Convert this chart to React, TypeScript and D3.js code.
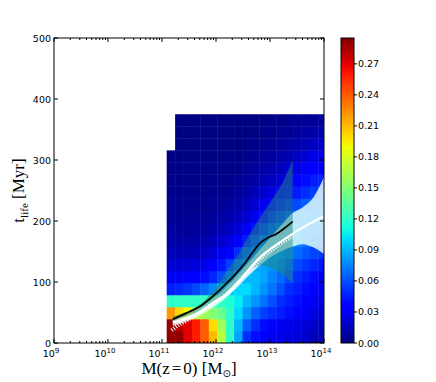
import React from 'react';
import * as d3 from 'd3';

const W = 436, H = 382;
const frame = { left: 54, right: 324, top: 38, bottom: 343 };
const cbar = { left: 341, right: 354 };

// histogram binning: log10 halo mass and lifetime in Myr
const logMassStart = 11.087;
const logMassStep = 0.156;
const tStep = 375 / 19;
const colorMax = 0.295;

// fraction per cell, bottom row (t = 0) first, columns by increasing mass
const fractionRows: (number | null)[][] = [
  [0.29, 0.29, 0.27, 0.26, 0.24, 0.21, 0.17, 0.12, 0.085, 0.05, 0.04, 0.035, 0.03, 0.028, 0.025, 0.022, 0.02, 0.015, 0.012],
  [0.29, 0.28, 0.27, 0.26, 0.24, 0.2, 0.16, 0.12, 0.09, 0.065, 0.05, 0.04, 0.035, 0.03, 0.028, 0.025, 0.022, 0.02, 0.015],
  [0.22, 0.2, 0.19, 0.17, 0.16, 0.15, 0.14, 0.12, 0.1, 0.08, 0.065, 0.055, 0.05, 0.045, 0.04, 0.035, 0.03, 0.025, 0.02],
  [0.12, 0.12, 0.12, 0.12, 0.12, 0.125, 0.12, 0.115, 0.105, 0.09, 0.08, 0.07, 0.06, 0.05, 0.045, 0.04, 0.035, 0.03, 0.025],
  [0.045, 0.048, 0.052, 0.058, 0.066, 0.076, 0.086, 0.095, 0.1, 0.1, 0.09, 0.08, 0.07, 0.06, 0.05, 0.045, 0.04, 0.035, 0.03],
  [0.03, 0.03, 0.032, 0.035, 0.04, 0.048, 0.058, 0.07, 0.08, 0.09, 0.09, 0.085, 0.075, 0.068, 0.058, 0.05, 0.045, 0.04, 0.035],
  [0.02, 0.02, 0.021, 0.023, 0.027, 0.034, 0.043, 0.055, 0.068, 0.078, 0.085, 0.085, 0.08, 0.074, 0.065, 0.058, 0.052, 0.048, 0.043],
  [0.014, 0.013, 0.014, 0.015, 0.018, 0.022, 0.029, 0.038, 0.05, 0.062, 0.072, 0.08, 0.08, 0.08, 0.075, 0.068, 0.062, 0.057, 0.052],
  [0.01, 0.009, 0.009, 0.01, 0.012, 0.015, 0.019, 0.025, 0.034, 0.045, 0.057, 0.067, 0.074, 0.078, 0.08, 0.075, 0.07, 0.065, 0.06],
  [0.008, 0.007, 0.006, 0.007, 0.008, 0.01, 0.013, 0.017, 0.023, 0.032, 0.042, 0.052, 0.062, 0.068, 0.073, 0.075, 0.074, 0.07, 0.067],
  [0.006, 0.005, 0.005, 0.005, 0.006, 0.007, 0.009, 0.012, 0.016, 0.022, 0.03, 0.039, 0.048, 0.056, 0.064, 0.07, 0.074, 0.072, 0.07],
  [0.005, 0.004, 0.004, 0.004, 0.004, 0.005, 0.006, 0.008, 0.011, 0.015, 0.021, 0.028, 0.036, 0.043, 0.05, 0.058, 0.064, 0.067, 0.068],
  [0.004, 0.003, 0.003, 0.003, 0.003, 0.003, 0.004, 0.005, 0.007, 0.01, 0.014, 0.019, 0.025, 0.031, 0.038, 0.045, 0.05, 0.055, 0.057],
  [0.003, 0.002, 0.002, 0.002, 0.002, 0.002, 0.003, 0.003, 0.005, 0.007, 0.01, 0.013, 0.017, 0.022, 0.028, 0.034, 0.04, 0.045, 0.047],
  [0.002, 0.002, 0.002, 0.002, 0.002, 0.002, 0.002, 0.002, 0.003, 0.005, 0.007, 0.009, 0.012, 0.015, 0.02, 0.025, 0.03, 0.035, 0.037],
  [0.002, 0.001, 0.001, 0.001, 0.001, 0.001, 0.001, 0.002, 0.002, 0.003, 0.005, 0.006, 0.008, 0.01, 0.013, 0.017, 0.022, 0.026, 0.028],
  [null, 0.001, 0.001, 0.001, 0.001, 0.001, 0.001, 0.001, 0.001, 0.002, 0.003, 0.004, 0.005, 0.007, 0.009, 0.011, 0.014, 0.017, 0.02],
  [null, 0.001, 0.001, 0.001, 0.001, 0.001, 0.001, 0.001, 0.001, 0.001, 0.002, 0.003, 0.004, 0.005, 0.006, 0.007, 0.009, 0.011, 0.013],
  [null, 0.001, 0.001, 0.001, 0.001, 0.001, 0.001, 0.001, 0.001, 0.001, 0.001, 0.002, 0.003, 0.003, 0.004, 0.005, 0.006, 0.007, 0.008],
];

// [log10 M, t] curves
const medianLine = [[11.2, 39], [11.45, 49], [11.7, 60], [11.92, 75], [12.13, 92], [12.3, 107], [12.5, 127], [12.69, 150], [12.83, 165], [12.97, 173], [13.1, 178], [13.25, 187], [13.42, 199]];
const modelLine = [[11.2, 34], [11.45, 40], [11.7, 51], [11.95, 66], [12.26, 84], [12.55, 114], [12.81, 140], [13.1, 160], [13.42, 179], [13.7, 194], [14.0, 208]];
const modelLine2 = [[11.18, 21], [11.3, 29], [11.46, 37], [11.7, 50], [11.95, 65], [12.2, 80], [12.5, 108], [12.81, 136], [13.1, 157], [13.42, 175]];
// [log10 M, low, high]
const medianBand = [[11.2, 36, 44], [11.5, 45, 53], [11.75, 54, 67], [12.0, 68, 92], [12.2, 84, 118], [12.38, 100, 140], [12.57, 116, 170], [12.81, 127, 205], [13.06, 121, 238], [13.25, 111, 266], [13.42, 98, 300]];
const modelBand = [[11.2, 28, 38], [11.5, 37, 47], [11.8, 50, 63], [12.1, 68, 84], [12.4, 92, 112], [12.7, 118, 142], [13.0, 140, 172], [13.25, 152, 197], [13.42, 158, 213], [13.6, 162, 222], [13.8, 157, 238], [14.0, 146, 272]];

const yTicks = [0, 100, 200, 300, 400, 500];
const xDecades = [9, 10, 11, 12, 13, 14];
const cbarTicks = [0, 0.03, 0.06, 0.09, 0.12, 0.15, 0.18, 0.21, 0.24, 0.27];

// matplotlib jet
const jetR = d3.scaleLinear<number>().domain([0, 0.35, 0.66, 0.89, 1]).range([0, 0, 1, 1, 0.5]).clamp(true);
const jetG = d3.scaleLinear<number>().domain([0, 0.125, 0.375, 0.64, 0.91, 1]).range([0, 0, 1, 1, 0, 0]).clamp(true);
const jetB = d3.scaleLinear<number>().domain([0, 0.11, 0.34, 0.65, 1]).range([0.5, 1, 1, 0, 0]).clamp(true);
const jet = (f: number) => d3.rgb(jetR(f) * 255, jetG(f) * 255, jetB(f) * 255).formatHex();

export default function App() {
  const x = d3.scaleLog().domain([1e9, 1e14]).range([frame.left, frame.right]);
  const y = d3.scaleLinear().domain([0, 500]).range([frame.bottom, frame.top]);
  const cy = d3.scaleLinear().domain([0, colorMax]).range([frame.bottom, frame.top]);
  const color = (v: number) => jet(v / colorMax);

  const line = d3.line<number[]>().x(d => x(Math.pow(10, d[0]))).y(d => y(d[1])).curve(d3.curveCatmullRom);
  const area = d3.area<number[]>().x(d => x(Math.pow(10, d[0]))).y0(d => y(d[1])).y1(d => y(d[2])).curve(d3.curveCatmullRom);

  const cells: JSX.Element[] = [];
  fractionRows.forEach((row, j) => {
    row.forEach((v, i) => {
      if (v === null) return;
      const x0 = x(Math.pow(10, logMassStart + i * logMassStep));
      const x1 = x(Math.pow(10, logMassStart + (i + 1) * logMassStep));
      const y0 = y(j * tStep), y1 = y((j + 1) * tStep);
      cells.push(<rect key={`${i}-${j}`} x={x0} y={y1} width={x1 - x0 + 0.4} height={y0 - y1 + 0.4} fill={color(v)} />);
    });
  });

  const minor = x.ticks().filter(t => Math.abs(Math.log10(t) - Math.round(Math.log10(t))) > 1e-6);
  const stops = d3.range(0, 1.0001, 0.02);
  const sans = 'DejaVu Sans, sans-serif';
  const serif = 'Liberation Serif, DejaVu Serif, serif';

  return (
    <svg width={W} height={H} style={{ position: 'absolute', left: 0, top: 0, background: '#fff' }}>
      <defs>
        <clipPath id="plotClip">
          <rect x={frame.left} y={frame.top} width={frame.right - frame.left} height={frame.bottom - frame.top} />
        </clipPath>
        <linearGradient id="jetGrad" x1="0" y1="1" x2="0" y2="0">
          {stops.map(s => <stop key={s} offset={s} stopColor={jet(s)} />)}
        </linearGradient>
      </defs>

      <g clipPath="url(#plotClip)">
        {cells}
        <path d={area(modelBand) || ''} fill="#e6fffb" fillOpacity={0.82} />
        <path d={area(medianBand) || ''} fill="#1f8a7a" fillOpacity={0.5} />
        <path d={line(modelLine2) || ''} fill="none" stroke="#fff" strokeWidth={4} strokeDasharray="1 1.6" />
        <path d={line(modelLine) || ''} fill="none" stroke="#fff" strokeWidth={2.2} />
        <path d={line(medianLine) || ''} fill="none" stroke="#000" strokeWidth={1.8} />
      </g>

      {/* frame and ticks */}
      <rect x={frame.left} y={frame.top} width={frame.right - frame.left} height={frame.bottom - frame.top} fill="none" stroke="#000" strokeWidth={1} />
      {xDecades.map(p => (
        <g key={p}>
          <line x1={x(Math.pow(10, p))} x2={x(Math.pow(10, p))} y1={frame.bottom} y2={frame.bottom - 4} stroke="#000" />
          <line x1={x(Math.pow(10, p))} x2={x(Math.pow(10, p))} y1={frame.top} y2={frame.top + 4} stroke="#000" />
          <text x={x(Math.pow(10, p)) - 3} y={357} textAnchor="middle" fontFamily={sans} fontSize={9.5}>
            10<tspan dy={-4.5} fontSize={7}>{p}</tspan>
          </text>
        </g>
      ))}
      {minor.map((t, i) => (
        <g key={i}>
          <line x1={x(t)} x2={x(t)} y1={frame.bottom} y2={frame.bottom - 2} stroke="#000" />
          <line x1={x(t)} x2={x(t)} y1={frame.top} y2={frame.top + 2} stroke="#000" />
        </g>
      ))}
      {yTicks.map(t => (
        <g key={t}>
          <line x1={frame.left} x2={frame.left + 4} y1={y(t)} y2={y(t)} stroke="#000" />
          <line x1={frame.right} x2={frame.right - 4} y1={y(t)} y2={y(t)} stroke="#000" />
          <text x={frame.left - 3} y={y(t) + 3.5} textAnchor="end" fontFamily={sans} fontSize={9.5}>{t}</text>
        </g>
      ))}

      {/* axis labels */}
      <text x={(frame.left + frame.right) / 2} y={374} textAnchor="middle" fontFamily={serif} fontSize={17}>
        M(z<tspan dx={2}>=</tspan><tspan dx={2}>0)</tspan> [M<tspan dy={3} fontSize={10} fontFamily={sans}>⊙</tspan><tspan dy={-3}>]</tspan>
      </text>
      <text transform={`translate(24,${(frame.top + frame.bottom) / 2}) rotate(-90)`} textAnchor="middle" fontFamily={serif} fontSize={17}>
        t<tspan dy={4} fontSize={11}>life</tspan><tspan dy={-4}> [Myr]</tspan>
      </text>

      {/* colorbar */}
      <rect x={cbar.left} y={frame.top} width={cbar.right - cbar.left} height={frame.bottom - frame.top} fill="url(#jetGrad)" stroke="#000" strokeWidth={1} />
      {cbarTicks.map(t => (
        <g key={t}>
          <line x1={cbar.right} x2={cbar.right + 3} y1={cy(t)} y2={cy(t)} stroke="#000" />
          <text x={cbar.right + 4} y={cy(t) + 3.5} fontFamily={sans} fontSize={9.5}>{t.toFixed(2)}</text>
        </g>
      ))}
    </svg>
  );
}
